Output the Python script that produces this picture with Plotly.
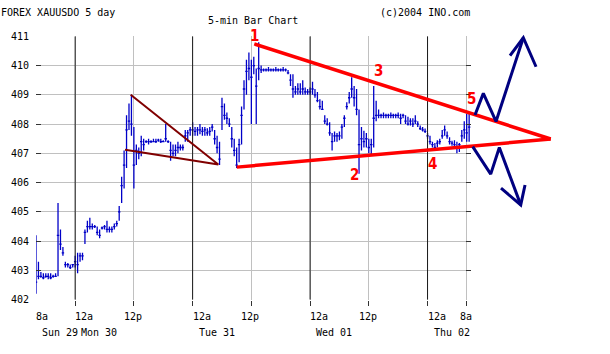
import plotly.graph_objects as go

# ---------------- data (5-min bar chart, sampled every 0.5 h; hours from Mon 30 12a) ----------------
highs = [
    404.2, 403.3, 402.95, 402.9, 402.9, 402.9, 402.9, 402.85, 402.9, 405.3,
    404.4, 403.8, 403.3, 403.25, 403.2, 403.2, 403.5, 403.6, 403.6, 403.6,
    404.4, 404.7, 404.8, 404.6, 404.55, 404.5, 404.4, 404.5, 404.55, 404.7,
    404.5, 404.5, 404.6, 404.7, 405.2, 406.2, 407.1, 408.3, 408.7, 409.0,
    407.9, 407.3, 407.2, 407.6, 407.5, 407.45, 407.5, 407.45, 407.5, 407.5,
    407.5, 407.5, 407.45, 408.0, 407.45, 407.4, 407.3, 407.3, 407.4, 407.3,
    407.3, 407.8, 407.8, 407.9, 408.06, 407.9, 407.9, 408.0, 407.9, 407.9,
    407.86, 407.9, 408.0, 407.8, 407.6, 407.4, 408.9, 408.7, 408.4, 408.2,
    407.9, 407.5, 407.2, 407.5, 408.6, 409.5, 410.2, 410.45, 410.2, 410.3,
    409.9, 410.8, 410.0, 409.9, 409.9, 409.95, 409.9, 409.9, 409.95, 409.9,
    409.9, 409.95, 409.9, 409.85, 409.7, 409.7, 409.3, 409.4, 409.4, 409.5,
    409.25, 409.2, 409.25, 409.45, 409.2, 409.1, 408.85, 408.8, 408.3, 408.2,
    408.06, 407.7, 407.75, 407.7, 407.75, 408.0, 408.3, 408.75, 409.1, 409.6,
    409.3, 409.2, 408.5, 407.9, 407.77, 407.7, 407.5, 407.5, 409.3, 408.8,
    408.5, 408.35, 408.4, 408.35, 408.35, 408.4, 408.35, 408.35, 408.4, 408.35,
    408.35, 408.3, 408.25, 408.2, 408.2, 408.3, 408.1, 407.95, 407.9, 407.85,
    407.7, 407.6, 407.4, 407.35, 407.45, 407.5, 407.8, 407.95, 407.75, 407.55,
    407.43, 407.45, 407.4, 407.35, 407.8, 408.1, 408.35, 408.4,
]
lows = [
    402.2, 402.7, 402.75, 402.7, 402.75, 402.7, 402.7, 402.75, 402.8, 402.8,
    403.7, 403.5, 403.1, 403.1, 403.05, 403.1, 403.1, 402.9, 403.3, 403.35,
    403.9, 404.3, 404.4, 404.4, 404.45, 404.2, 404.1, 404.4, 404.4, 404.3,
    404.3, 404.3, 404.4, 404.5, 404.7, 405.3, 405.8, 406.5, 407.8, 407.6,
    405.8, 406.6, 406.8, 406.9, 407.1, 407.35, 407.3, 407.35, 407.4, 407.35,
    407.4, 407.35, 407.4, 407.4, 407.35, 406.75, 406.9, 406.9, 407.0, 407.1,
    407.1, 407.4, 407.4, 407.6, 407.6, 407.6, 407.6, 407.65, 407.6, 407.6,
    407.6, 407.6, 407.75, 407.3, 407.0, 406.6, 407.8, 408.15, 408.0, 407.9,
    407.2, 406.9, 406.5, 406.7, 407.3, 408.5, 409.0, 409.5, 408.0, 409.7,
    408.0, 409.5, 409.75, 409.8, 409.8, 409.8, 409.8, 409.8, 409.8, 409.8,
    409.8, 409.8, 409.8, 409.7, 409.3, 408.9, 409.0, 409.0, 409.0, 409.0,
    409.0, 409.0, 409.0, 409.0, 408.9, 408.75, 408.5, 408.5, 408.0, 407.95,
    407.6, 407.1, 407.4, 407.4, 407.45, 407.5, 407.9, 408.5, 408.7, 408.9,
    408.6, 408.3, 406.3, 407.1, 407.2, 407.2, 407.0, 406.97, 407.2, 408.1,
    408.2, 408.2, 408.2, 408.2, 408.2, 408.2, 408.2, 408.2, 408.2, 408.0,
    408.2, 408.0, 407.95, 407.95, 407.9, 408.0, 407.9, 407.8, 407.75, 407.7,
    407.5, 407.3, 407.2, 407.15, 407.2, 407.3, 407.5, 407.6, 407.5, 407.3,
    407.26, 407.25, 407.0, 407.05, 407.4, 407.5, 407.4, 407.4,
]
closes = [
    402.6, 402.8, 402.8, 402.75, 402.8, 402.8, 402.75, 402.8, 402.8, 404.2,
    403.9, 403.6, 403.2, 403.2, 403.1, 403.2, 403.3, 403.2, 403.5, 403.5,
    404.3, 404.5, 404.5, 404.5, 404.5, 404.3, 404.2, 404.45, 404.5, 404.4,
    404.4, 404.4, 404.5, 404.6, 405.0, 405.9, 406.6, 407.8, 408.1, 408.0,
    406.6, 407.1, 407.0, 407.4, 407.3, 407.4, 407.4, 407.4, 407.4, 407.4,
    407.45, 407.4, 407.4, 407.5, 407.4, 407.1, 407.0, 407.1, 407.2, 407.2,
    407.2, 407.6, 407.7, 407.8, 407.8, 407.75, 407.8, 407.8, 407.75, 407.8,
    407.7, 407.75, 407.9, 407.5, 407.2, 406.8, 408.6, 408.3, 408.2, 408.0,
    407.5, 407.1, 406.6, 407.3, 408.3, 409.2, 409.8, 409.9, 409.6, 410.0,
    409.3, 409.9, 409.85, 409.85, 409.85, 409.85, 409.85, 409.85, 409.85, 409.85,
    409.85, 409.85, 409.85, 409.75, 409.5, 409.2, 409.1, 409.2, 409.1, 409.2,
    409.1, 409.1, 409.1, 409.2, 409.0, 408.8, 408.6, 408.5, 408.1, 408.0,
    407.7, 407.4, 407.6, 407.6, 407.6, 407.9, 408.2, 408.6, 408.9, 409.2,
    408.9, 408.5, 407.3, 407.5, 407.4, 407.5, 407.2, 407.3, 408.2, 408.3,
    408.3, 408.3, 408.3, 408.3, 408.3, 408.3, 408.3, 408.3, 408.3, 408.2,
    408.3, 408.1, 408.0, 408.1, 408.0, 408.1, 408.0, 407.85, 407.8, 407.75,
    407.6, 407.4, 407.3, 407.2, 407.35, 407.4, 407.6, 407.8, 407.6, 407.4,
    407.35, 407.3, 407.2, 407.3, 407.6, 407.8, 407.7, 407.9,
]
bar_step_h = 0.5
first_bar_h = -8
hours = [first_bar_h + bar_step_h * i for i in range(len(highs))]

tick_hours = [-8, 0, 12, 24, 36, 48, 60, 72, 80]
tick_text = ["8a", "12a", "12p", "12a", "12p", "12a", "12p", "12a", "8a"]
day_hours = [-8, 0, 24, 48, 72]
day_text = ["Sun 29", "Mon 30", "Tue 31", "Wed 01", "Thu 02"]
price_ticks = [402, 403, 404, 405, 406, 407, 408, 409, 410, 411]

# hand-drawn analysis lines (hours, price)
upper_trend_h = [36.6, 97.17]
upper_trend_p = [410.74, 407.49]
lower_trend_h = [33.01, 97.17]
lower_trend_p = [406.53, 407.49]
pennant_h = [10.19, 29.25, 11.35]
pennant_p = [407.12, 406.62, 409.0]
up_path_h = [81.70, 83.40, 85.99, 91.57]
up_path_p = [408.31, 409.05, 408.09, 410.95]
up_head_h = [88.85, 91.57, 94.17]
up_head_p = [410.34, 410.95, 409.96]
down_path_h = [81.23, 84.91, 86.67, 91.04]
down_path_p = [407.23, 406.29, 407.20, 405.24]
down_head_h = [87.01, 91.04, 91.92]
down_head_p = [405.81, 405.24, 405.92]
wave_labels = ["1", "2", "3", "4", "5"]
wave_h = [36.69, 56.98, 61.98, 73.02, 80.99]
wave_p = [411.0, 406.26, 409.81, 406.64, 408.86]

# ---------------- layout geometry ----------------
W, H = 610, 354
X0, X1 = 36.0, 471.0
Y_TOP, Y_BOT = 36.3, 299.7
x_range = [-8, 80.88]
y_range = [402, 411]
px_per_h = (X1 - X0) / (x_range[1] - x_range[0])
px_per_u = (Y_BOT - Y_TOP) / (y_range[1] - y_range[0])
x2_range = [x_range[0], x_range[0] + (W - X0) / px_per_h]
y2_range = [y_range[0], y_range[0] + Y_BOT / px_per_u]

MONO = "DejaVu Sans Mono"
GRID = "#c0c0c0"
TICK = "#333333"

fig = go.Figure()

# black midnight lines
dl_x, dl_y = [], []
for h, t in zip(tick_hours, tick_text):
    if t == "12a":
        dl_x += [h, h, None]
        dl_y += [y_range[0], y_range[1], None]
fig.add_trace(go.Scatter(x=dl_x, y=dl_y, mode="lines", line=dict(color="#1a1a1a", width=1),
                         hoverinfo="skip", showlegend=False))

fig.add_trace(go.Ohlc(x=hours, open=closes, high=highs, low=lows, close=closes,
                      increasing_line_color="#0000C8", decreasing_line_color="#0000C8",
                      line=dict(width=1.3), tickwidth=0.5, showlegend=False, hoverinfo="skip"))

def add_line(xs, ys, color, width):
    fig.add_trace(go.Scatter(x=xs, y=ys, xaxis="x2", yaxis="y2", mode="lines",
                             line=dict(color=color, width=width), hoverinfo="skip",
                             showlegend=False))

add_line(pennant_h, pennant_p, "#800000", 2)
add_line(upper_trend_h, upper_trend_p, "#FF0000", 3.5)
add_line(lower_trend_h, lower_trend_p, "#FF0000", 3.5)
add_line(up_path_h, up_path_p, "#000080", 3)
add_line(up_head_h, up_head_p, "#000080", 3)
add_line(down_path_h, down_path_p, "#000080", 3)
add_line(down_head_h, down_head_p, "#000080", 3)

ann = []
# y tick labels
for v in price_ticks:
    ann.append(dict(x=29.5 / W, xref="paper", y=v, yref="y", text=str(v), showarrow=False,
                    xanchor="right", yanchor="middle", borderpad=0,
                    font=dict(family=MONO, size=10, color="#000")))
# x tick labels (row 1)
row1_y = (H - 316.4) / H
row2_y = (H - 332.0) / H
for i, (h, t) in enumerate(zip(tick_hours, tick_text)):
    if t == "12a" or i == 0:
        xa, xs = "left", -1
    else:
        xa, xs = "center", -1
    ann.append(dict(x=h, xref="x", y=row1_y, yref="paper", text=t, showarrow=False,
                    xanchor=xa, xshift=xs, yanchor="middle", borderpad=0,
                    font=dict(family=MONO, size=10, color="#000")))
for h, t in zip(day_hours, day_text):
    ann.append(dict(x=h, xref="x", y=row2_y, yref="paper", text=t, showarrow=False,
                    xanchor="left", xshift=5, yanchor="middle", borderpad=0,
                    font=dict(family=MONO, size=10, color="#000")))
# header
ann.append(dict(x=0, xref="paper", y=(H - 12.4) / H, yref="paper", text="FOREX XAUUSDO 5 day",
                showarrow=False, xanchor="left", yanchor="middle", borderpad=0,
                font=dict(family=MONO, size=10, color="#000")))
ann.append(dict(x=379.2 / W, xref="paper", y=(H - 12.4) / H, yref="paper", text="(c)2004 INO.com",
                showarrow=False, xanchor="left", yanchor="middle", borderpad=0,
                font=dict(family=MONO, size=10, color="#000")))
ann.append(dict(x=207.3 / W, xref="paper", y=(H - 21.0) / H, yref="paper", text="5-min Bar Chart",
                showarrow=False, xanchor="left", yanchor="middle", borderpad=0,
                font=dict(family=MONO, size=10, color="#000")))
# wave numbers
for t, h, p in zip(wave_labels, wave_h, wave_p):
    ann.append(dict(x=h, xref="x2", y=p, yref="y2", text="<b>%s</b>" % t, showarrow=False,
                    xanchor="center", yanchor="middle", borderpad=0,
                    font=dict(family="Liberation Sans Narrow, DejaVu Sans Condensed, sans-serif",
                              size=15, color="#FF0000")))

fig.update_layout(
    width=W, height=H, margin=dict(l=0, r=0, t=0, b=0, pad=0),
    paper_bgcolor="white", plot_bgcolor="rgba(0,0,0,0)", showlegend=False,
    template="none",
    xaxis=dict(domain=[X0 / W, X1 / W], range=x_range, tickvals=tick_hours[1:],
               ticktext=[""] * (len(tick_hours) - 1), showticklabels=False,
               showgrid=True, gridcolor=GRID, gridwidth=1, zeroline=False, showline=False,
               ticks="outside", ticklen=5, tickcolor=TICK, rangeslider=dict(visible=False),
               anchor="y", automargin=False, fixedrange=True),
    yaxis=dict(domain=[(H - Y_BOT) / H, (H - Y_TOP) / H], range=y_range, tickvals=price_ticks,
               showticklabels=False, showgrid=True, gridcolor=GRID, gridwidth=1, zeroline=False,
               showline=False, ticks="inside", ticklen=5, tickcolor=TICK, mirror="ticks",
               anchor="x", automargin=False, fixedrange=True),
    xaxis2=dict(domain=[X0 / W, 1.0], range=x2_range, visible=False, anchor="y2",
                showgrid=False, zeroline=False, fixedrange=True),
    yaxis2=dict(domain=[(H - Y_BOT) / H, 1.0], range=y2_range, visible=False, anchor="x2",
                showgrid=False, zeroline=False, fixedrange=True),
    annotations=ann,
)

fig.write_html("out.html")
